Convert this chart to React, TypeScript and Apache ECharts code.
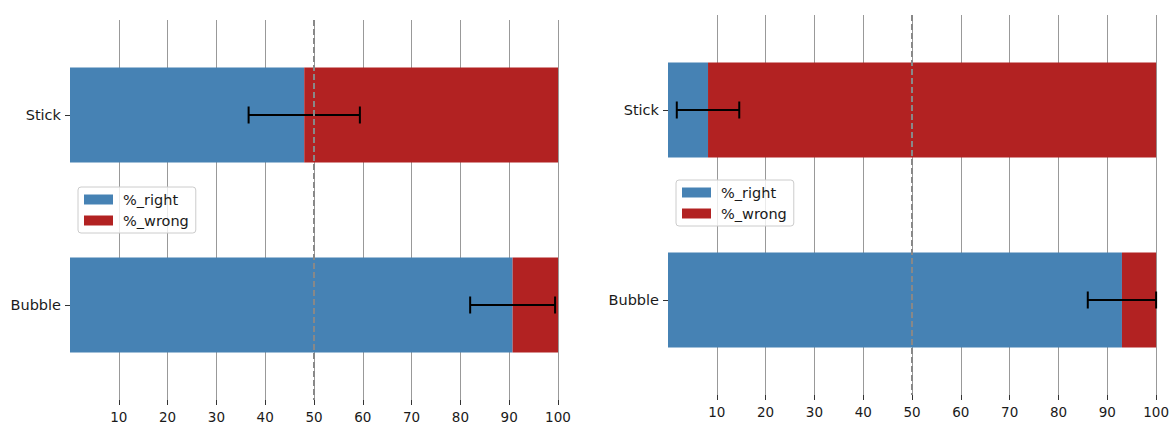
import React, { useEffect, useRef } from "react";
import * as echarts from "echarts";

// ---- data ----
const categories = ["Stick", "Bubble"];
const xTickValues = [10, 20, 30, 40, 50, 60, 70, 80, 90, 100];
const seriesNames = ["%_right", "%_wrong"];

// left panel
const leftRight = [48.0, 90.7];
const leftWrong = [52.0, 9.3];
const leftErr = [11.4, 8.7];

// right panel
const rightRight = [8.2, 93.0];
const rightWrong = [91.8, 7.0];
const rightErr = [6.4, 7.0];

const chanceLevel = 50;

const BLUE = "#4682b4";
const RED = "#b22222";
const FONT = "DejaVu Sans";
const TEXT = "#1a1a1a";

function errorData(center: number[], err: number[]) {
  return center.map((c, i) => [c - err[i], c + err[i], i]);
}

function renderErr(params: any, api: any) {
  const y = api.value(2);
  const lo = api.coord([api.value(0), y]);
  const hi = api.coord([api.value(1), y]);
  const cap = 8.5;
  const style = { stroke: "#000", lineWidth: 2 };
  return {
    type: "group",
    children: [
      { type: "line", shape: { x1: lo[0], y1: lo[1], x2: hi[0], y2: hi[1] }, style },
      { type: "line", shape: { x1: lo[0], y1: lo[1] - cap, x2: lo[0], y2: lo[1] + cap }, style },
      { type: "line", shape: { x1: hi[0], y1: hi[1] - cap, x2: hi[0], y2: hi[1] + cap }, style },
    ],
  };
}

function xAxisFor(gridIndex: number) {
  return {
    type: "value",
    gridIndex,
    min: 0,
    max: 100,
    interval: 10,
    axisLine: { show: false },
    axisTick: {
      show: true,
      customValues: xTickValues,
      length: 5,
      lineStyle: { color: "#333", width: 1 },
    },
    axisLabel: {
      customValues: xTickValues,
      fontSize: 13.5,
      color: TEXT,
      fontFamily: FONT,
      margin: 10,
    },
    splitLine: {
      show: true,
      showMinLine: true,
      showMaxLine: true,
      lineStyle: { color: "#999", width: 1 },
    },
  };
}

function yAxisFor(gridIndex: number) {
  return {
    type: "category",
    gridIndex,
    data: categories,
    inverse: true,
    axisLine: { show: false },
    axisTick: {
      show: true,
      alignWithLabel: true,
      length: 5,
      lineStyle: { color: "#333", width: 1 },
    },
    axisLabel: { fontSize: 14.5, color: TEXT, fontFamily: FONT, margin: 9 },
    splitLine: { show: false },
  };
}

function legendFor(left: number, top: number) {
  return {
    left,
    top,
    orient: "vertical",
    data: seriesNames,
    icon: "rect",
    itemWidth: 29,
    itemHeight: 10,
    itemGap: 6,
    padding: [5, 7, 5, 6],
    borderColor: "#ccc",
    borderWidth: 1,
    borderRadius: 3,
    backgroundColor: "rgba(255,255,255,0.8)",
    textStyle: { fontSize: 14.5, color: TEXT, fontFamily: FONT, padding: [0, 0, 0, 5] },
    selectedMode: false,
  };
}

function panelSeries(idx: number, right: number[], wrong: number[], err: number[]) {
  const stack = "panel" + idx;
  return [
    {
      name: seriesNames[0],
      type: "bar",
      stack,
      xAxisIndex: idx,
      yAxisIndex: idx,
      barWidth: "50%",
      itemStyle: { color: BLUE },
      data: right,
      z: 2,
    },
    {
      name: seriesNames[1],
      type: "bar",
      stack,
      xAxisIndex: idx,
      yAxisIndex: idx,
      barWidth: "50%",
      itemStyle: { color: RED },
      data: wrong,
      z: 2,
    },
    {
      name: "chance" + idx,
      type: "custom",
      xAxisIndex: idx,
      yAxisIndex: idx,
      renderItem: () => ({ type: "group", children: [] }),
      data: [],
      z: 3,
      markLine: {
        silent: true,
        symbol: ["none", "none"],
        label: { show: false },
        lineStyle: { color: "#888", width: 2, type: [6, 3] },
        data: [{ xAxis: chanceLevel }],
      },
    },
    {
      name: "err" + idx,
      type: "custom",
      xAxisIndex: idx,
      yAxisIndex: idx,
      renderItem: renderErr,
      encode: { x: [0, 1], y: 2 },
      data: errorData(right, err),
      z: 4,
    },
  ];
}

export default function App() {
  const ref = useRef<HTMLDivElement>(null);
  useEffect(() => {
    if (!ref.current) return;
    const chart = echarts.init(ref.current, undefined, { renderer: "svg" });
    chart.setOption({
      animation: false,
      backgroundColor: "#fff",
      textStyle: { fontFamily: FONT },
      grid: [
        { left: 70, top: 20, width: 488, height: 380 },
        { left: 668, top: 15, width: 489, height: 380 },
      ],
      xAxis: [xAxisFor(0), xAxisFor(1)],
      yAxis: [yAxisFor(0), yAxisFor(1)],
      legend: [legendFor(78, 187), legendFor(676, 180)],
      series: [
        ...panelSeries(0, leftRight, leftWrong, leftErr),
        ...panelSeries(1, rightRight, rightWrong, rightErr),
      ],
    });
    return () => chart.dispose();
  }, []);
  return (
    <div
      ref={ref}
      style={{ position: "fixed", left: 0, top: 0, width: 1172, height: 424 }}
    />
  );
}
